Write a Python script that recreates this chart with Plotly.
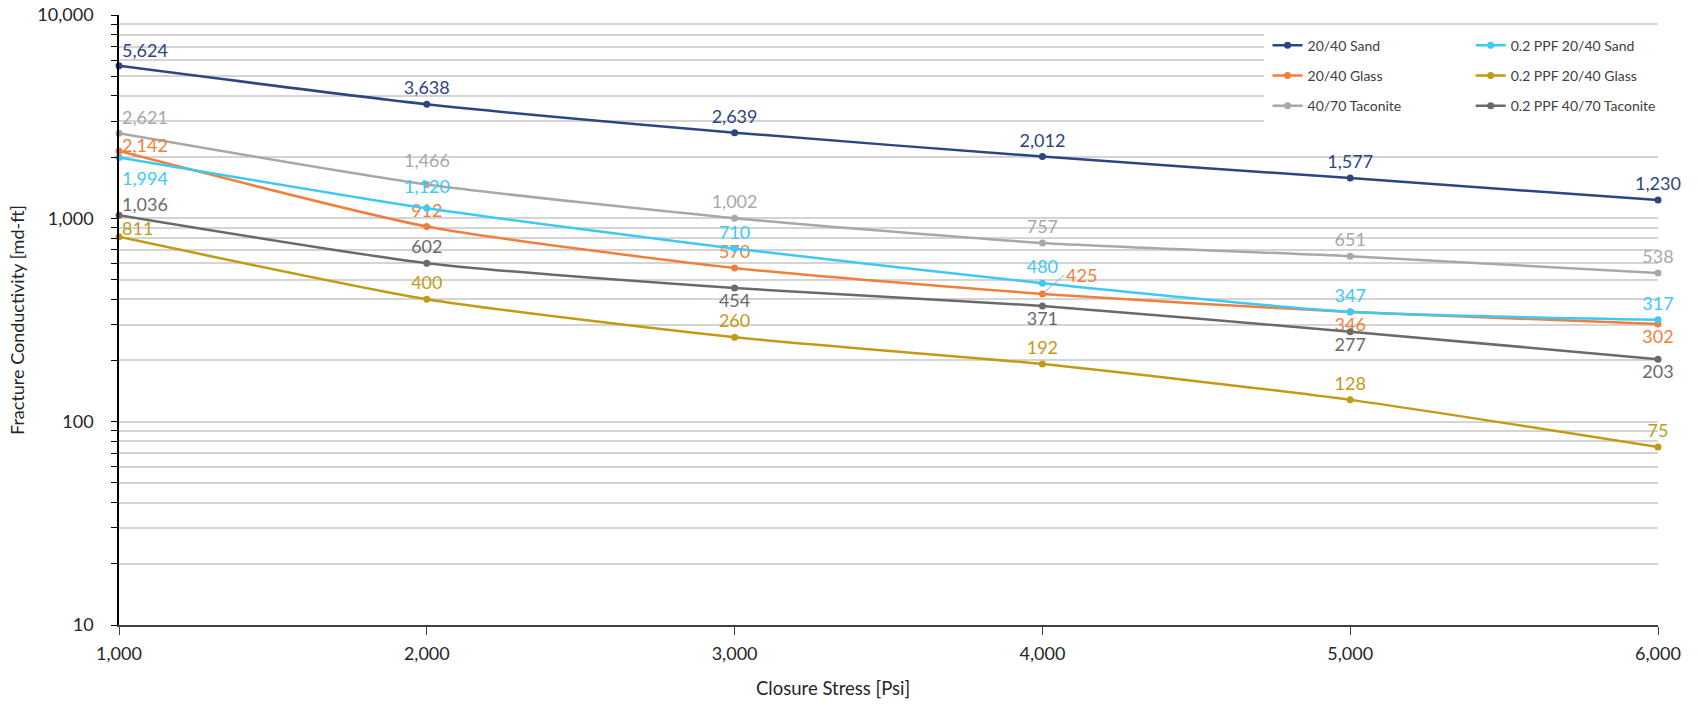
import math
import plotly.graph_objects as go

stress = [1000, 2000, 3000, 4000, 5000, 6000]

sand_2040 = [5624, 3638, 2639, 2012, 1577, 1230]
glass_2040 = [2142, 912, 570, 425, 346, 302]
taconite_4070 = [2621, 1466, 1002, 757, 651, 538]
ppf_sand_2040 = [1994, 1120, 710, 480, 347, 317]
ppf_glass_2040 = [811, 400, 260, 192, 128, 75]
ppf_taconite_4070 = [1036, 602, 454, 371, 277, 203]

y_tick_vals = [10, 100, 1000, 10000]
y_tick_text = ["10", "100", "1,000", "10,000"]
x_tick_vals = [1000, 2000, 3000, 4000, 5000, 6000]
x_tick_text = ["1,000", "2,000", "3,000", "4,000", "5,000", "6,000"]

FONT = "Lato, 'Open Sans', sans-serif"
LBL = 18

# label placement: ("l", yshift) = annotation right of point; ("c", yshift) = centered annotation;
# "callout" = label with leader line; otherwise a plotly textposition
series = [
    ("20/40 Sand", sand_2040, "#2B4680", "legend",
     [("l", 16), "top center", "top center", "top center", "top center", "top center"]),
    ("20/40 Glass", glass_2040, "#F07F3C", "legend",
     [("l", 6), "top center", "top center", "callout", "bottom center", "bottom center"]),
    ("40/70 Taconite", taconite_4070, "#A8A8A8", "legend",
     [("l", 16), ("c", 25), "top center", "top center", "top center", "top center"]),
    ("0.2 PPF 20/40 Sand", ppf_sand_2040, "#3DC9F3", "legend2",
     [("l", -21), ("c", 22), "top center", "top center", "top center", "top center"]),
    ("0.2 PPF 20/40 Glass", ppf_glass_2040, "#C39A16", "legend2",
     [("l", 9), "top center", "top center", "top center", "top center", "top center"]),
    ("0.2 PPF 40/70 Taconite", ppf_taconite_4070, "#6A6A6A", "legend2",
     [("l", 11), "top center", "bottom center", "bottom center", "bottom center", "bottom center"]),
]

fig = go.Figure()
annotations = []
for name, vals, color, leg, pos in series:
    texts = []
    tpos = []
    for i, v in enumerate(vals):
        p = pos[i]
        if p == "callout":
            texts.append("")
            tpos.append("top center")
            annotations.append(dict(
                x=stress[i], y=math.log10(v), xref="x", yref="y", text=f"{v:,}",
                showarrow=True, arrowhead=0, arrowwidth=1, arrowcolor="#A6A6A6",
                ax=22, ay=-19, font=dict(family=FONT, size=LBL, color=color),
                xanchor="left", yanchor="middle", standoff=3))
        elif isinstance(p, tuple):
            texts.append("")
            tpos.append("top center")
            annotations.append(dict(
                x=stress[i], y=math.log10(v), xref="x", yref="y", text=f"{v:,}",
                showarrow=False, xanchor="left" if p[0] == "l" else "center",
                yanchor="middle", xshift=1 if p[0] == "l" else 0, yshift=p[1],
                font=dict(family=FONT, size=LBL, color=color)))
        else:
            texts.append(f"{v:,}")
            tpos.append(p)
    fig.add_trace(go.Scatter(
        x=stress, y=vals, name=name, legend=leg, legendgroup=name,
        mode="lines+markers+text",
        line=dict(color=color, width=2.5, shape="spline", smoothing=0.6),
        marker=dict(color=color, size=7),
        text=texts, textposition=tpos,
        textfont=dict(family=FONT, size=LBL, color=color),
        cliponaxis=False,
    ))

minor_vals = [m * d for d in (10, 100, 1000) for m in range(2, 10)]

legend_common = dict(
    bgcolor="rgba(0,0,0,0)", font=dict(family=FONT, size=14, color="#404040"),
    orientation="v", xanchor="left", yanchor="top", tracegroupgap=9,
    traceorder="grouped", itemwidth=30,
)

fig.update_layout(
    width=1698, height=707,
    margin=dict(l=119, r=40, t=15, b=82),
    paper_bgcolor="white", plot_bgcolor="white",
    font=dict(family=FONT, size=18, color="#262626"),
    showlegend=True,
    legend=dict(x=0.7463, y=0.976, **legend_common),
    legend2=dict(x=0.8783, y=0.976, **legend_common),
    xaxis=dict(
        range=[1000, 6000], tickvals=x_tick_vals, ticktext=x_tick_text, automargin=False,
        showgrid=False, zeroline=False, showline=True, linecolor="#404040", linewidth=1.5,
        ticks="outside", ticklen=8, tickcolor="#404040", tickwidth=1.2,
        tickfont=dict(family=FONT, size=18, color="#262626"), ticklabelstandoff=4,
        ticklabeloverflow="allow",
    ),
    yaxis=dict(
        type="log", range=[1, 4], tickvals=y_tick_vals, ticktext=y_tick_text, automargin=False,
        showgrid=True, gridcolor="#D4D4D4", gridwidth=1.5, zeroline=False,
        showline=True, linecolor="black", linewidth=1.5,
        ticks="outside", ticklen=6, tickcolor="black", tickwidth=1.2,
        tickfont=dict(family=FONT, size=18, color="#262626"), ticklabelstandoff=14,
        ticklabeloverflow="allow",
        minor=dict(tickvals=minor_vals, showgrid=True, gridcolor="#D4D4D4", gridwidth=1.5,
                   ticks="outside", ticklen=6, tickcolor="black", tickwidth=1.2),
        title=dict(text="Fracture Conductivity [md-ft]", font=dict(family=FONT, size=18, color="#262626"),
                   standoff=8),
    ),
    yaxis2=dict(
        type="log", range=[1, 4], overlaying="y", side="left", anchor="x", automargin=False,
        tickvals=y_tick_vals, showticklabels=False, showgrid=False, zeroline=False, showline=False,
        ticks="inside", ticklen=5, tickcolor="black", tickwidth=1.2,
        minor=dict(tickvals=minor_vals, showgrid=False, ticks="inside", ticklen=5,
                   tickcolor="black", tickwidth=1.2),
    ),
    shapes=[dict(type="rect", xref="paper", yref="paper", x0=0.744, x1=1.03, y0=0.81, y1=0.979,
                 fillcolor="white", line=dict(width=0), layer="above")],
    annotations=annotations + [dict(
        text="Closure Stress [Psi]", xref="paper", yref="paper", x=0.464, y=-0.103,
        xanchor="center", yanchor="middle", showarrow=False,
        font=dict(family=FONT, size=18.5, color="#262626"))],
)

fig.write_html("out.html", config={"displayModeBar": False},
               post_script="document.body.style.margin='0px';")
